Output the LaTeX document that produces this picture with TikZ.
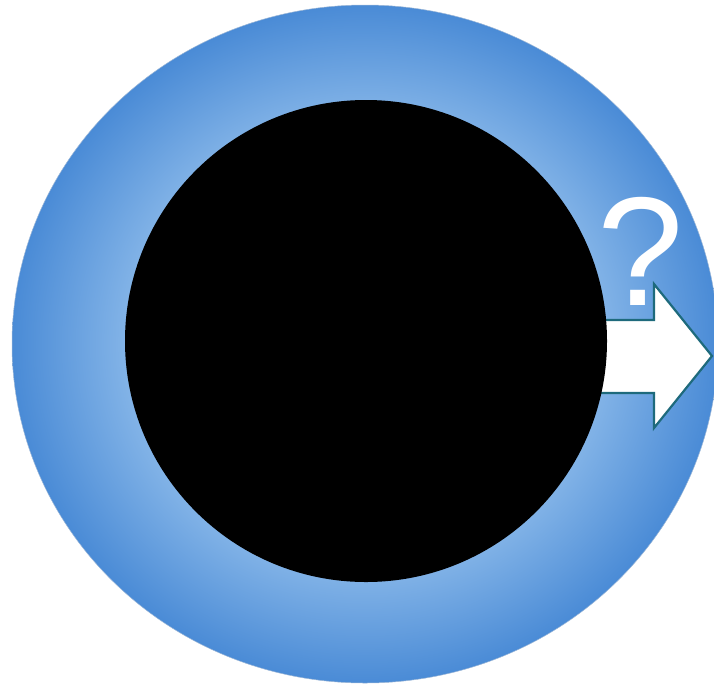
\documentclass[tikz,border=0pt]{standalone}
\usepackage{fontspec}
\setmainfont{Liberation Sans}
\definecolor{ringlight}{RGB}{130,179,231}
\definecolor{ringdark}{RGB}{74,139,214}
\definecolor{arrowline}{RGB}{30,106,124}
\pgfdeclareradialshading{ringshade}{\pgfpoint{0bp}{0bp}}{color(0bp)=(ringlight); color(17bp)=(ringlight); color(25bp)=(ringdark); color(50bp)=(ringdark)}

\begin{document}
\begin{tikzpicture}[x=1pt,y=-1pt,line width=2.2pt]
\useasboundingbox (0,0) rectangle (714,686);
\clip (0,0) rectangle (714,686);
% outer ring
\shade[shading=ringshade] (365,344) ellipse [x radius=353, y radius=339];
\draw[line width=0.5pt,color=ringdark!70!gray!60] (365,344) ellipse [x radius=353, y radius=339];
% arrow out of the hole
\draw[arrowline,fill=white,line join=miter] (560,320) -- (654,320) -- (654,284) -- (712,356)
  -- (654,428) -- (654,393) -- (560,393) -- cycle;
% black hole
\fill[black] (366,341) circle (241);
% question mark
\node[text=white,inner sep=0pt,anchor=base,font=\fontsize{155}{155}\selectfont] (qmark) at (641,305) {?};
\end{tikzpicture}
\end{document}
